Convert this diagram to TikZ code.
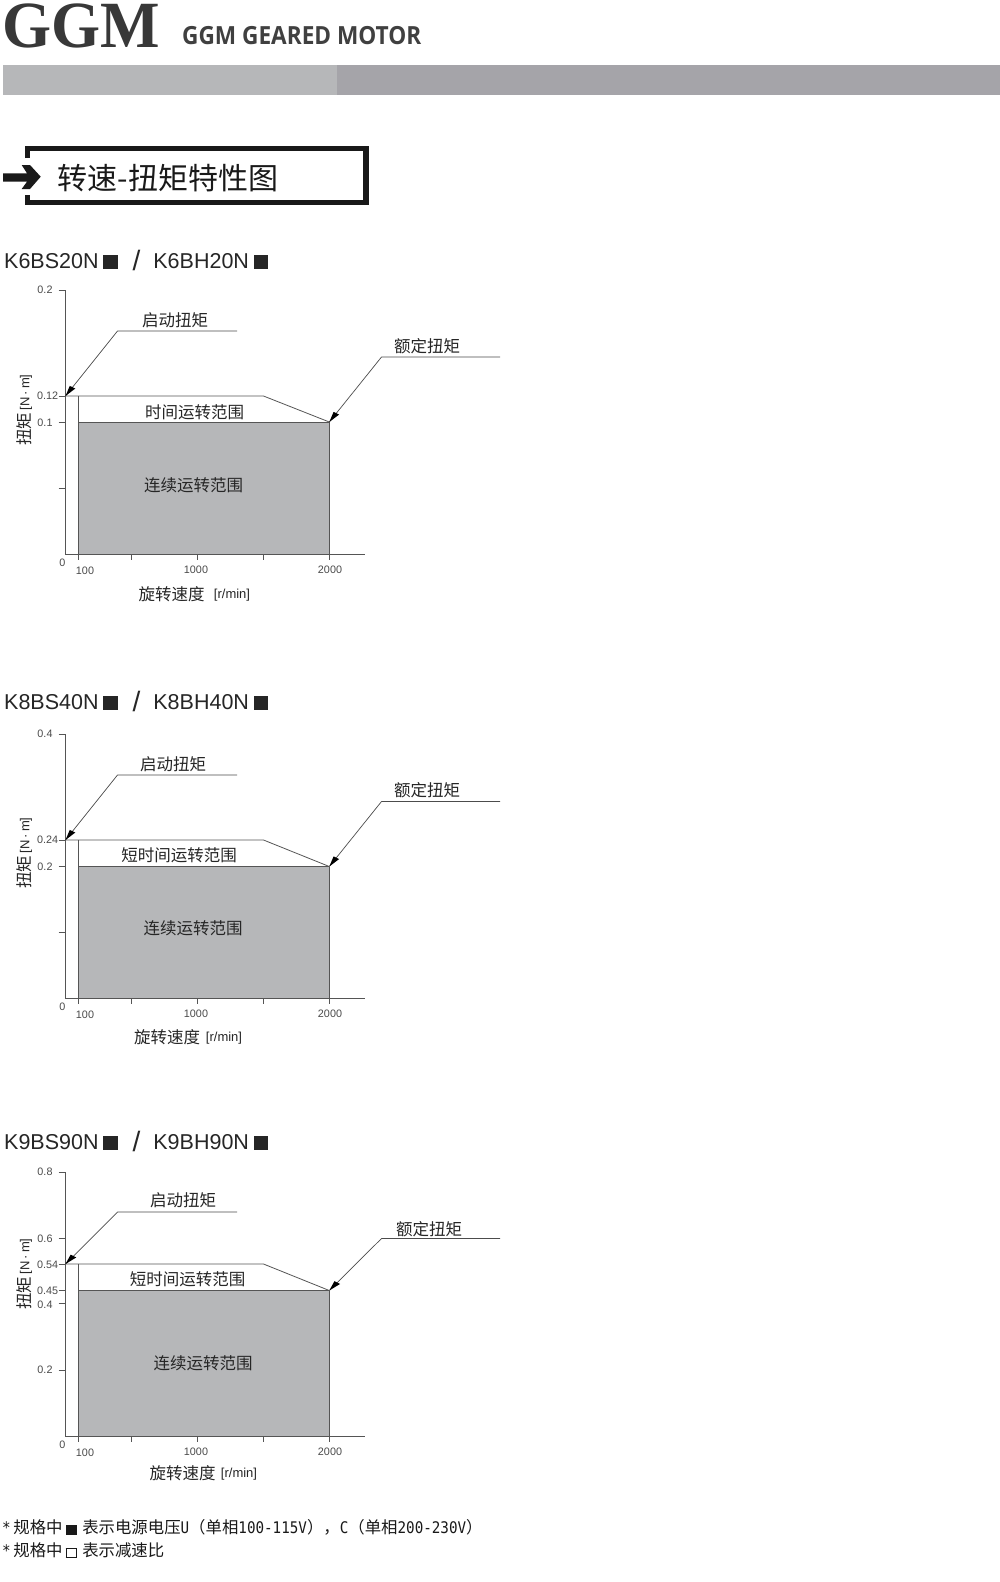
\documentclass[tikz,border=0pt]{standalone}
\usepackage{fontspec}
\usetikzlibrary{calc}
\setmainfont{Liberation Sans}
\setmonofont{DejaVu Sans Mono}[FakeStretch=0.89]
\newfontfamily\cjk{Noto Sans CJK SC}
\newfontfamily\serifb{Liberation Serif}[FakeStretch=0.955]
\newfontfamily\headfont{Open Sans}[FakeStretch=0.905]
\definecolor{lbl}{HTML}{4A4A4A}
\definecolor{axisc}{HTML}{555555}
\definecolor{fillg}{HTML}{B6B7B9}
\definecolor{barl}{HTML}{B6B7B9}
\definecolor{bard}{HTML}{A5A4A9}
\tikzset{
 axisline/.style={draw=axisc,line width=0.8pt},
 leader/.style={draw=black!70,line width=0.7pt},
 tip/.style={fill=black,draw=none},
 ticklbl/.style={inner sep=0pt,font=\fontsize{10.8}{11}\selectfont,text=lbl},
 cjklbl/.style={inner sep=0pt,font=\cjk\fontsize{16.5}{16.5}\selectfont,text=black!85},
 unitlbl/.style={inner sep=0pt,font=\fontsize{13}{13}\selectfont,text=black!85},
 model/.style={inner sep=0pt,anchor=base west,font=\fontsize{21.5}{24}\selectfont,text=black!85},
 notetxt/.style={inner sep=0pt,anchor=base west,font=\cjk\fontsize{16.4}{17}\selectfont,text=black!90},
}
\newcommand{\ylabeltext}{扭矩\hspace{2pt}\raisebox{1.5pt}{\rmfamily\fontsize{13}{13}\selectfont[N\,·\,m]}}
\newcommand{\modeltext}[2]{#1\hspace{4pt}\rule{15pt}{14pt}\hspace{15pt}\raisebox{-1.5pt}{\fontsize{28}{28}\selectfont /}\hspace{13pt}#2\hspace{4.5pt}\rule{14.5pt}{14pt}}
\newcommand{\mono}[1]{{\ttfamily\fontsize{16}{16}\selectfont #1}}
\newcommand{\panelbase}[9]{%
 \coordinate (#1top) at (65.5,#2);
 \coordinate (#1o) at (65.5,#5);
 \coordinate (#1xe) at (365,#5);
 \coordinate (#1s) at (65.5,#3);
 \coordinate (#1a) at (78.5,#3);
 \coordinate (#1k) at (263.5,#3);
 \coordinate (#1r) at (329.3,#4);
 \coordinate (#1l) at (78.5,#4);
 \coordinate (#1b) at (78.5,#5);
 \coordinate (#1c) at (329.3,#5);
 \fill[fillg] (#1l) rectangle (#1c);
 \draw[axisline] (58.5,#2) -- (#1top) -- (#1o) -- (#1xe);
 \draw[axisline] (#1a) -- (#1b) (#1r) -- (#1c);
 \draw[axisline] (#1l) -- (#1r);
 \draw[axisline] (#1s) -- (#1k) -- (#1r);
 \draw[axisline] (58.5,#3) -- (#1s) (58.5,#4) -- (65.5,#4);
 \foreach \tx in {78.5,131.5,197.5,263.5,329.3} \draw[axisline] (\tx,#5) -- (\tx,#5+6);
 \coordinate (#1lb) at (117.5,#3-\panelL);
 \coordinate (#1le) at (237,#3-\panelL);
 \coordinate (#1rb) at (381.5,#4-\panelL);
 \coordinate (#1re) at (500,#4-\panelL);
 \draw[leader] (#1le) -- (#1lb) -- (#1s);
 \draw[leader] (#1re) -- (#1rb) -- (#1r);
 \fill[tip] (#1s) -- ($(#1s)!12pt!(#1lb)+(2.3,1.9)$) -- ($(#1s)!10.5pt!(#1lb)+(-2.3,-1.9)$) -- cycle;
 \fill[tip] (#1r) -- ($(#1r)!12pt!(#1rb)+(2.3,1.9)$) -- ($(#1r)!10.5pt!(#1rb)+(-2.3,-1.9)$) -- cycle;
 \node[ticklbl] (#1n0) at (62.5,#5+9) {0};
 \node[ticklbl] (#1n100) at (85,#5+17) {100};
 \node[ticklbl] (#1n1000) at (196,#5+16) {1000};
 \node[ticklbl] (#1n2000) at (330,#5+16) {2000};
 \node[ticklbl] (#1ntop) at (45,#2-.5) {\panelA};
 \node[cjklbl] (#1st) at (#6,#3-\panelL-\panelSt) {启动扭矩};
 \node[cjklbl] (#1rt) at (\panelR,#4-\panelL-\panelRy) {额定扭矩};
 \node[cjklbl] (#1sh) at (#8,#4-\panelS) {#7};
 \node[cjklbl] (#1ct) at (#9,#4+\panelC) {连续运转范围};
}
\begin{document}
\begin{tikzpicture}[x=1pt,y=-1pt]
\useasboundingbox (0,0) rectangle (1000,1582);
\fill[white] (0,0) rectangle (1000,1582);
% header
\node[inner sep=0pt,anchor=base west,font=\serifb\bfseries\fontsize{66}{66}\selectfont,text=black!78] (logo) at (2.5,47) {GGM};
\node[inner sep=0pt,anchor=base west,font=\headfont\bfseries\fontsize{25}{25}\selectfont,text=black!75] (sub) at (182,44.5) {GGM GEARED MOTOR};
\fill[barl] (3,64.5) rectangle (336.5,94.5);
\fill[bard] (336.5,64.5) rectangle (1000,94.5);
% title box
\draw[black!90,line width=5.3pt] (27.3,158) -- (27.3,148.5) -- (366,148.5) -- (366,202.7) -- (27.3,202.7) -- (27.3,195);
\fill[black!90] (3,173.3) -- (27,173.3) -- (21.7,165) -- (30,165) -- (40.7,176.7) -- (30,189) -- (21.7,189) -- (27,181.7) -- (3,181.7) -- cycle;
\node[inner sep=0pt,anchor=west,font=\cjk\fontsize{30}{30}\selectfont,text=black!90] (title) at (57.5,178) {转速-扭矩特性图};
% model titles
\node[model] (m1) at (4,268.5) {\modeltext{K6BS20N}{K6BH20N}};
\node[model] (m2) at (4,709.5) {\modeltext{K8BS40N}{K8BH40N}};
\node[model] (m3) at (4,1149.5) {\modeltext{K9BS90N}{K9BH90N}};
% panel 1
\def\panelA{0.2}\def\panelL{65}\def\panelR{427}\def\panelRy{11}\def\panelC{63.2}\def\panelS{10}\def\panelSt{10.5}
\panelbase{p}{290}{396}{422}{554}{175}{时间运转范围}{194.7}{193.7}
\draw[axisline] (58.5,488) -- (65.5,488);
\node[ticklbl] (pn1) at (47.7,396) {0.12};
\node[ticklbl] (pn2) at (45,423) {0.1};
\node[cjklbl,rotate=90] (py) at (24.5,410) {\ylabeltext};
\node[cjklbl] (px) at (171.7,594) {旋转速度};
\node[unitlbl] (pxu) at (232,595) {[r/min]};
% panel 2
\def\panelA{0.4}\def\panelC{62.2}\def\panelS{11.5}
\panelbase{q}{734}{840}{866.5}{998}{173}{短时间运转范围}{179}{193}
\draw[axisline] (58.5,932) -- (65.5,932);
\node[ticklbl] (qn1) at (47.7,840) {0.24};
\node[ticklbl] (qn2) at (45,867) {0.2};
\node[cjklbl,rotate=90] (qy) at (24.5,853) {\ylabeltext};
\node[cjklbl] (qx) at (167,1037) {旋转速度};
\node[unitlbl] (qxu) at (224,1038) {[r/min]};
% panel 3
\def\panelA{0.8}\def\panelL{52}\def\panelR{429}\def\panelRy{9.5}\def\panelC{73.2}\def\panelSt{11.5}
\panelbase{r}{1172}{1264}{1290.5}{1436}{183}{短时间运转范围}{187.5}{203}
\foreach \ty in {1238,1303.5,1370} \draw[axisline] (58.5,\ty) -- (65.5,\ty);
\node[ticklbl] (rn1) at (47.7,1264.5) {0.54};
\node[ticklbl] (rn2) at (47.7,1291) {0.45};
\node[ticklbl] (rn3) at (45,1304.5) {0.4};
\node[ticklbl] (rn4) at (45,1238.5) {0.6};
\node[ticklbl] (rn5) at (45,1370) {0.2};
\node[cjklbl,rotate=90] (ry) at (24.5,1274) {\ylabeltext};
\node[cjklbl] (rx) at (182.5,1473) {旋转速度};
\node[unitlbl] (rxu) at (239,1474) {[r/min]};
% notes
\node[notetxt] (n1) at (2,1533.5) {\mono{*}\hspace{2.6pt}规格中\hspace{3pt}\rule[-1pt]{11pt}{10pt}\hspace{5.7pt}表示电源电压\mono{U}（单相\mono{100-115V}），\mono{C}（单相\mono{200-230V}）};
\node[notetxt] (n2) at (2,1556) {\mono{*}\hspace{2.6pt}规格中\hspace{3pt}\setlength{\fboxsep}{0pt}\setlength{\fboxrule}{0.8pt}\raisebox{-1pt}{\fbox{\rule{0pt}{8.4pt}\hspace{9.4pt}}}\hspace{5.7pt}表示减速比};
\end{tikzpicture}
\end{document}
